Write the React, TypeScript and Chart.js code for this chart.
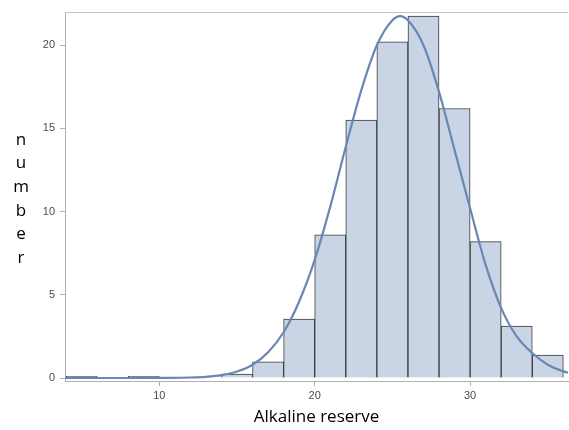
import React, { useEffect, useRef } from "react";
import { Chart, registerables } from "chart.js";

Chart.register(...registerables);

// Histogram bins (centers, width 2) and counts
const binCenters = [5, 7, 9, 11, 13, 15, 17, 19, 21, 23, 25, 27, 29, 31, 33, 35];
const binCounts = [0.1, 0, 0.1, 0, 0, 0.24, 0.97, 3.54, 8.6, 15.5, 20.2, 21.75, 16.2, 8.2, 3.12, 1.38];

// Fitted normal curve
const curveX = [3.9, 6, 8, 10, 12, 13, 14, 15, 16, 17, 18, 19, 20, 21, 22, 23, 24, 25, 25.5, 26, 27, 28, 29, 30, 31, 32, 33, 34, 35, 36, 37];
const curveY = [0, 0, 0, 0.01, 0.03, 0.07, 0.17, 0.39, 0.8, 1.55, 2.75, 4.6, 7.1, 10.3, 13.9, 17.3, 20.0, 21.5, 21.75, 21.5, 20.0, 17.2, 13.7, 10.2, 6.8, 4.2, 2.5, 1.5, 0.8, 0.4, 0.2];

const yTicks = [0, 5, 10, 15, 20];
const xTicks = [10, 20, 30];
const yTitleLetters = ["n", "u", "m", "b", "e", "r"];
const xTitle = "Alkaline reserve";

const FONT = "'Open Sans', 'Liberation Sans', Arial, sans-serif";
const TICK_FONT = "'Liberation Sans', Arial, sans-serif";

export default function App() {
  const ref = useRef<HTMLCanvasElement | null>(null);

  useEffect(() => {
    if (!ref.current) return;
    const framePlugin = {
      id: "frame",
      afterDraw(chart: any) {
        const { ctx, chartArea } = chart;
        ctx.save();
        ctx.strokeStyle = "#c4c4c4";
        ctx.lineWidth = 1;
        ctx.beginPath();
        ctx.moveTo(chartArea.left, chartArea.top + 0.5);
        ctx.lineTo(chartArea.right, chartArea.top + 0.5);
        ctx.stroke();
        ctx.fillStyle = "#000";
        ctx.font = `17px ${FONT}`;
        ctx.textAlign = "center";
        ctx.textBaseline = "middle";
        yTitleLetters.forEach((l, i) => {
          ctx.fillText(l, 21, 140 + i * 23.6);
        });
        ctx.restore();
      },
    };

    const chart = new Chart(ref.current, {
      type: "bar",
      data: {
        datasets: [
          {
            type: "line",
            data: curveX.map((x, i) => ({ x, y: curveY[i] })),
            borderColor: "#6a87b3",
            borderWidth: 2.2,
            pointRadius: 0,
            fill: false,
            cubicInterpolationMode: "monotone",
            order: 0,
          } as any,
          {
            type: "bar",
            data: binCenters.map((x, i) => ({ x, y: binCounts[i] })),
            backgroundColor: "#c9d5e5",
            borderColor: "#3a3a3a",
            borderWidth: 1,
            barPercentage: 1,
            categoryPercentage: 1,
            order: 1,
          } as any,
        ],
      },
      options: {
        animation: false,
        responsive: true,
        maintainAspectRatio: false,
        layout: { padding: { top: 12, right: 1, left: 0, bottom: 0 } },
        plugins: { legend: { display: false }, tooltip: { enabled: false } },
        scales: {
          x: {
            type: "linear",
            min: 3.93,
            max: 36.3,
            offset: false,
            afterBuildTicks: (s: any) => {
              s.ticks = xTicks.map((v) => ({ value: v }));
            },
            afterFit: (s: any) => {
              s.height = 49;
            },
            grid: { display: true, offset: false, drawOnChartArea: false, drawTicks: true, tickLength: 5, color: "#b0b0b0" },
            border: { display: true, color: "#b0b0b0" },
            ticks: { color: "#4a4a4a", font: { size: 11, family: TICK_FONT }, padding: 3 },
            title: {
              display: true,
              text: xTitle,
              color: "#000",
              font: { size: 17, family: FONT },
              padding: { top: 0, bottom: 3 },
            },
          },
          y: {
            type: "linear",
            min: -0.18,
            max: 22,
            afterBuildTicks: (s: any) => {
              s.ticks = yTicks.map((v) => ({ value: v }));
            },
            afterFit: (s: any) => {
              s.width = 65;
            },
            grid: { display: true, offset: false, drawOnChartArea: false, drawTicks: true, tickLength: 5, color: "#b0b0b0" },
            border: { display: true, color: "#b0b0b0" },
            ticks: { color: "#4a4a4a", font: { size: 11, family: TICK_FONT }, padding: 5 },
            title: { display: false },
          },
        },
      },
      plugins: [framePlugin],
    });
    return () => chart.destroy();
  }, []);

  return (
    <div style={{ position: "fixed", left: 0, top: 0, width: 569, height: 430, background: "#fff" }}>
      <canvas ref={ref} />
    </div>
  );
}
